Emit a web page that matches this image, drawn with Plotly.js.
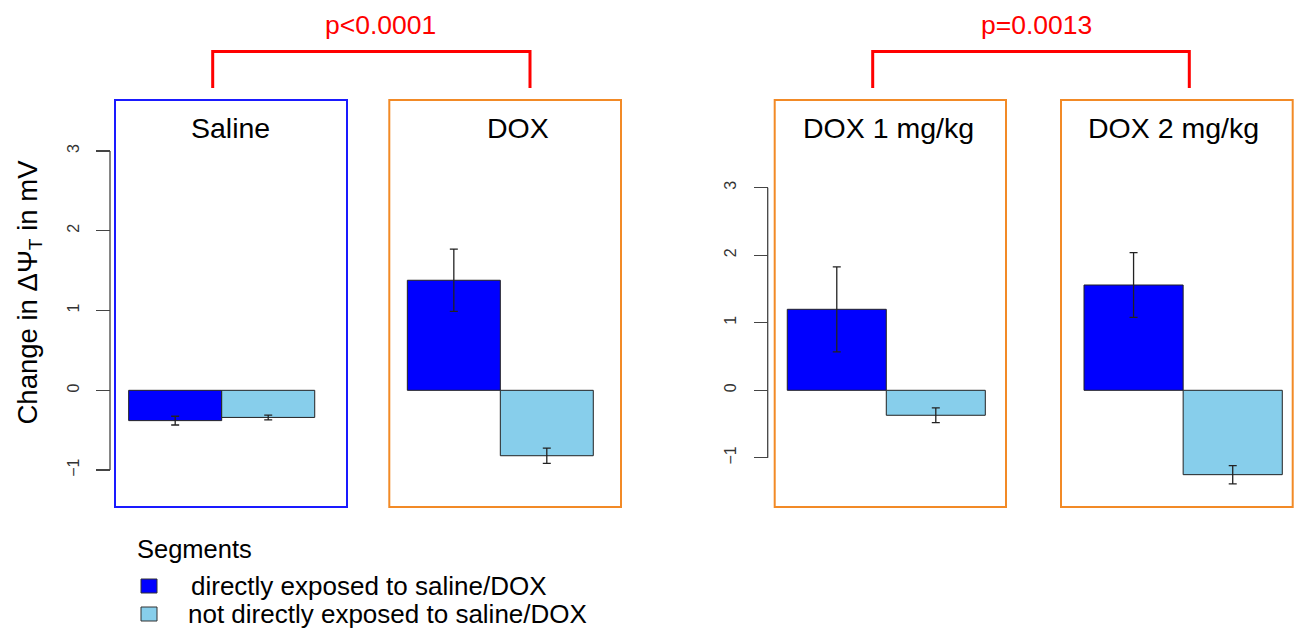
<!DOCTYPE html>
<html>
<head>
<meta charset="utf-8">
<script src="https://cdn.plot.ly/plotly-3.0.1.min.js"></script>
<style>html,body{margin:0;padding:0;background:#fff;}#chart{width:1298px;height:629px;}</style>
</head>
<body>
<div id="chart"></div>
<script>
// ---- data ----
var panels = ["Saline", "DOX", "DOX 1 mg/kg", "DOX 2 mg/kg"];
var segments = ["directly exposed to saline/DOX", "not directly exposed to saline/DOX"];
var directMean = [-0.38, 1.38, 1.20, 1.56];
var directSE = [0.055, 0.39, 0.63, 0.48];
var indirectMean = [-0.34, -0.82, -0.37, -1.25];
var indirectSE = [0.03, 0.095, 0.11, 0.135];
var yTicks = [-1, 0, 1, 2, 3];
var pLabels = ["p<0.0001", "p=0.0013"];
var colDirect = "#0000FF";
var colIndirect = "#87CEEB";

// ---- layout helpers (pixel -> paper) ----
var W = 1298, H = 629;
function fx(p) { return p / W; }
function fy(p) { return 1 - p / H; }

var xDomains = [[115, 347], [389.3, 621], [774.7, 1006], [1061, 1292.7]];
var xRanges = [[-0.647, 1.847], [-0.694, 1.798], [-0.627, 1.709], [-0.732, 1.605]];
var boxColors = ["#1a1aff", "#F28A26", "#F28A26", "#F28A26"];
var titleCenters = [230, 518, 888, 1173];
var yOf = ["y", "y", "y2", "y2"];

var traces = [];
var layout = {
  width: W, height: H,
  margin: {l: 0, r: 0, t: 0, b: 0},
  paper_bgcolor: "#fff", plot_bgcolor: "rgba(0,0,0,0)",
  showlegend: false,
  barmode: "overlay",
  font: {family: "Liberation Sans, Arial, sans-serif", color: "#000"},
  shapes: [], annotations: []
};

for (var i = 0; i < 4; i++) {
  var xa = i === 0 ? "x" : "x" + (i + 1);
  var key = i === 0 ? "xaxis" : "xaxis" + (i + 1);
  layout[key] = {
    domain: [fx(xDomains[i][0]), fx(xDomains[i][1])],
    range: xRanges[i], type: "category", categoryarray: segments,
    anchor: yOf[i], visible: false, fixedrange: true
  };
  traces.push({
    type: "bar", x: [segments[0]], y: [directMean[i]], width: [1],
    xaxis: xa, yaxis: yOf[i], name: segments[0],
    marker: {color: colDirect, line: {color: "#222", width: 1}},
    error_y: {type: "data", array: [directSE[i]], color: "#222", thickness: 1.3, width: 4},
    hoverinfo: "y"
  });
  traces.push({
    type: "bar", x: [segments[1]], y: [indirectMean[i]], width: [1],
    xaxis: xa, yaxis: yOf[i], name: segments[1],
    marker: {color: colIndirect, line: {color: "#222", width: 1}},
    error_y: {type: "data", array: [indirectSE[i]], color: "#222", thickness: 1.3, width: 4},
    hoverinfo: "y"
  });
  layout.shapes.push({
    type: "rect", xref: xa + " domain", yref: yOf[i] + " domain",
    x0: 0, x1: 1, y0: 0, y1: 1, line: {color: boxColors[i], width: 2}
  });
  layout.annotations.push({
    text: panels[i], xref: "paper", yref: "paper",
    x: fx(titleCenters[i]), y: fy(128), xanchor: "center", yanchor: "middle",
    showarrow: false, font: {size: 28.5, color: "#000"}
  });
}

var yCommon = {
  domain: [fy(507), fy(100)], anchor: "free", tickmode: "array", tickvals: yTicks,
  ticks: "outside", ticklen: 14, tickwidth: 1.2, tickcolor: "#444",
  showline: false, zeroline: false, showgrid: false, tickangle: -90,
  tickfont: {size: 16, color: "#333"}, ticklabelstandoff: 11, fixedrange: true
};
layout.yaxis = Object.assign({}, yCommon, {range: [-1.463, 3.640], position: fx(110)});
layout.yaxis2 = Object.assign({}, yCommon, {range: [-1.729, 4.301], position: fx(767.7)});

// axis lines spanning only the tick range (R style)
layout.shapes.push({type: "line", xref: "paper", yref: "y", x0: fx(110), x1: fx(110),
  y0: yTicks[0], y1: yTicks[yTicks.length - 1], line: {color: "#444", width: 1.3}});
layout.shapes.push({type: "line", xref: "paper", yref: "y2", x0: fx(767.7), x1: fx(767.7),
  y0: yTicks[0], y1: yTicks[yTicks.length - 1], line: {color: "#444", width: 1.3}});

// significance brackets
var brackets = [[212.7, 530], [872.7, 1189.3]];
var pCenters = [380, 1036.5];
for (var b = 0; b < 2; b++) {
  var x0 = fx(brackets[b][0]), x1 = fx(brackets[b][1]), yt = fy(51.5), yb = fy(88);
  layout.shapes.push({type: "path", xref: "paper", yref: "paper",
    path: "M" + x0 + "," + yb + " L" + x0 + "," + yt + " L" + x1 + "," + yt + " L" + x1 + "," + yb,
    line: {color: "#FF0000", width: 3}});
  layout.annotations.push({text: pLabels[b], xref: "paper", yref: "paper",
    x: fx(pCenters[b]), y: fy(25), xanchor: "center", yanchor: "middle", showarrow: false,
    font: {size: 26.5, color: "#FF0000"}});
}

// y-axis title
layout.annotations.push({text: "Change in \u0394\u03A8<sub>T</sub> in mV", xref: "paper", yref: "paper",
  x: fx(29), y: fy(292.5), xanchor: "center", yanchor: "middle", textangle: -90, showarrow: false,
  font: {size: 27.5, color: "#000"}});

// legend (drawn as text + swatches)
layout.annotations.push({text: "Segments", xref: "paper", yref: "paper", x: fx(135), y: fy(549),
  xanchor: "left", yanchor: "middle", showarrow: false, font: {size: 25.5, color: "#000"}});
var legendRows = [586, 614];
var legendTextX = [189, 186];
var legendCols = [colDirect, colIndirect];
for (var k = 0; k < 2; k++) {
  layout.shapes.push({type: "rect", xref: "paper", yref: "paper",
    x0: fx(141), x1: fx(157), y0: fy(legendRows[k] - 7), y1: fy(legendRows[k] + 7),
    fillcolor: legendCols[k], line: {color: "#333", width: 1}});
  layout.annotations.push({text: segments[k], xref: "paper", yref: "paper",
    x: fx(legendTextX[k]), y: fy(legendRows[k]), xanchor: "left", yanchor: "middle",
    showarrow: false, font: {size: 26, color: "#000"}});
}

Plotly.newPlot("chart", traces, layout, {displayModeBar: false, staticPlot: true});
</script>
</body>
</html>
